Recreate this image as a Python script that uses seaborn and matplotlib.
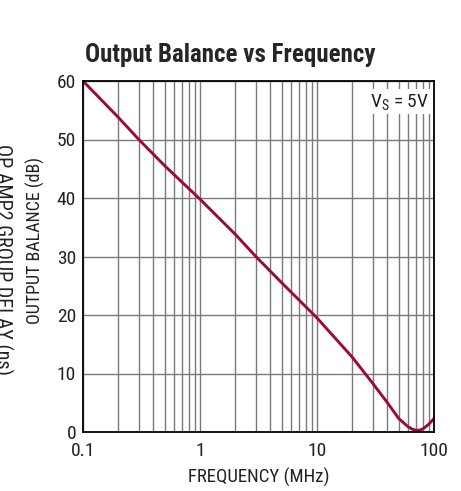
import matplotlib
matplotlib.use("Agg")
import matplotlib.pyplot as plt
import seaborn as sns
import numpy as np
import pandas as pd

# values
freq_mhz = [0.1, 0.2, 0.3, 0.5, 1, 2, 3, 5, 10, 20, 30, 40, 50, 60, 65, 70, 75, 80, 90, 100]
balance_db = [60, 53.8, 50, 45.5, 39.8, 33.8, 30.0, 25.5, 19.5, 12.8, 8.3, 5.0, 2.3, 0.9, 0.5, 0.3, 0.3, 0.5, 1.3, 2.3]
x_ticks = [0.1, 1, 10, 100]
x_labels = ["0.1", "1", "10", "100"]
y_ticks = [0, 10, 20, 30, 40, 50, 60]

sns.set_style("white")
plt.rcParams["font.family"] = ["Liberation Sans Narrow", "Roboto Condensed", "Archivo Narrow", "DejaVu Sans"]
plt.rcParams["mathtext.default"] = "regular"

df = pd.DataFrame({"freq": freq_mhz, "db": balance_db})

fig = plt.figure(figsize=(4.61, 4.91), dpi=100)
ax = fig.add_axes([83 / 461, 59 / 491, 351 / 461, 351 / 491])

ax.set_xscale("log")
ax.set_xlim(0.1, 100)
ax.set_ylim(0, 60)
ax.set_xticks(x_ticks)
ax.set_xticklabels(x_labels)
ax.set_yticks(y_ticks)
ax.xaxis.set_minor_locator(matplotlib.ticker.LogLocator(base=10, subs=np.arange(2, 10)))
ax.xaxis.set_minor_formatter(matplotlib.ticker.NullFormatter())
ax.grid(True, which="both", axis="x", color="#7a7a7a", lw=1.0)
ax.grid(True, which="major", axis="y", color="#7a7a7a", lw=1.0)
ax.tick_params(which="both", length=0, labelsize=14, colors="#222222")
ax.tick_params(axis="x", pad=7)
ax.tick_params(axis="y", pad=5)

sns.lineplot(data=df, x="freq", y="db", ax=ax, color="#9B0A3A", lw=2.1)

for s in ax.spines.values():
    s.set_color("black")
    s.set_linewidth(1.3)

ax.set_xlabel("FREQUENCY (MHz)", fontsize=13.5, color="#222222", labelpad=6)
ax.set_ylabel("OUTPUT BALANCE (dB)", fontsize=13, color="#222222")
ax.yaxis.set_label_coords(-38 / 351, 0.545)
ax.set_title("Output Balance vs Frequency", fontsize=18, fontweight="bold", pad=14, x=0.42)

ax.text(0.985, 0.97, "V$_S$ = 5V", transform=ax.transAxes, ha="right", va="top",
        fontsize=14, color="#222222",
        bbox=dict(facecolor="white", edgecolor="none", pad=2))

fig.text(3 / 461, (491 - 259) / 491, "OP AMP2 GROUP DELAY (ns)", rotation=-90, ha="center", va="center",
         fontsize=14.5, color="#222222")

fig.savefig("out.png", dpi=100)
